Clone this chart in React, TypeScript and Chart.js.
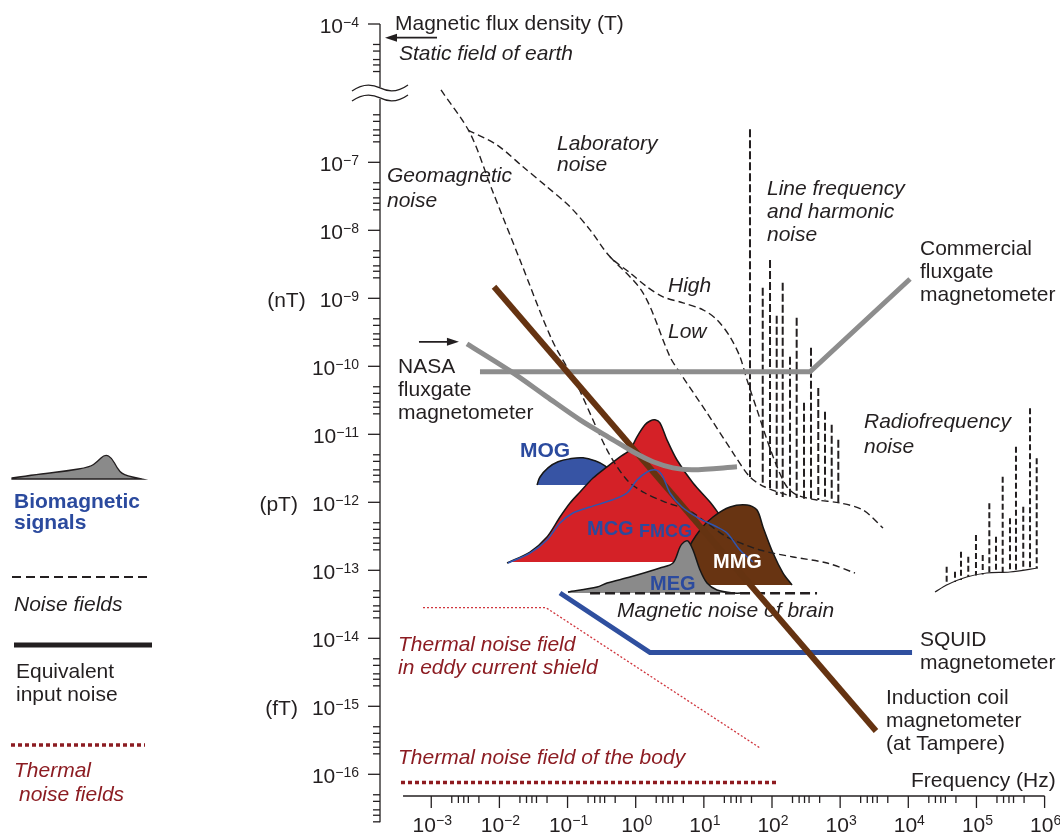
import React, { useEffect, useRef } from "react";
import { Chart, registerables } from "chart.js";

Chart.register(...registerables);

const FONT = "'Liberation Sans', Arial, Helvetica, sans-serif";
const INK = "#231f20";
const DARK_RED = "#8c1c22";
const BLUE_TXT = "#2b4a9e";

// Scale windows, in log10 units (x: log10 Hz, y: log10 T on a broken axis)
const X_MIN = -9.328;
const X_MAX = 6.226;
const Y_MIN = -16.878;
const Y_MAX = -4.613;
const BREAK_SHIFT = 0.966; // the 1e-6..1e-5 decade is cut out of the axis
const disp = (lb: number) => (lb > -5.5 ? lb - BREAK_SHIFT : lb);

// Axis layout values
const yAxisLogF = -3.752;
const xAxisLogB = -16.319;
const xAxisStartLogF = -3.414;
const yAxisEndLogB = -16.705;
const xMajorExp = [-3, -2, -1, 0, 1, 2, 3, 4, 5, 6];
const yMajorExp = [-4, -7, -8, -9, -10, -11, -12, -13, -14, -15, -16];
const xMinorMult = [2, 2.5, 3, 3.5, 5];
const yMinorMult = [2, 2.5, 3, 4, 5];
const yMinorDecades = [-5, -7, -8, -9, -10, -11, -12, -13, -14, -15, -16, -17];
const unitLabels: Record<string, string> = { "-9": "(nT)", "-12": "(pT)", "-15": "(fT)" };
const earthFieldT = 6.3e-5;

// ---- Data (log10 frequency [Hz], log10 flux density [T]) ----
const geoNoiseLogF = [-2.857, -2.432, -2.108, -1.698, -1.228, -0.861, -0.421, -0.128, 0.136, 0.43, 0.797, 1.046, 1.34, 1.824, 2.309, 2.808, 3.218];
const geoNoiseLogB = [-4.97, -6.569, -7.404, -8.437, -9.613, -10.275, -11.228, -11.672, -11.863, -11.996, -12.128, -12.304, -12.51, -12.701, -12.804, -12.893, -13.04];

const labHighLogF = [-2.46, -2.034, -1.654, -1.302, -0.964, -0.67, -0.377, -0.084, 0.166, 0.401, 0.694, 0.988, 1.193, 1.384, 1.53, 1.633, 1.78, 1.927, 2.074, 2.22, 2.367, 2.661, 2.999, 3.336, 3.629];
const labHighLogB = [-6.525, -6.746, -7.066, -7.36, -7.654, -7.993, -8.39, -8.625, -8.831, -8.978, -9.066, -9.169, -9.316, -9.566, -9.86, -10.199, -10.64, -11.081, -11.478, -11.775, -11.893, -11.966, -12.01, -12.113, -12.378];

const labLowLogF = [-0.377, 0.107, 0.503, 0.65, 1.046, 1.428, 1.677, 1.897, 2.22];
const labLowLogB = [-8.39, -8.919, -9.86, -10.096, -10.684, -11.272, -11.628, -11.775, -11.893];

const lineFreqLogF = [1.677, 1.864, 1.971, 2.069, 2.157, 2.264, 2.362, 2.47, 2.572, 2.679, 2.778, 2.876, 2.973];
const lineFreqTopLogB = [-6.515, -8.846, -8.437, -9.257, -8.771, -9.859, -9.287, -10.537, -9.728, -10.319, -10.669, -10.86, -11.081];
const lineFreqBottomLogB = [-11.628, -11.746, -11.819, -11.893, -11.922, -11.937, -11.937, -11.966, -11.966, -11.966, -11.966, -11.981, -11.996];

const rfLogF = [4.563, 4.685, 4.773, 4.88, 4.993, 5.092, 5.189, 5.287, 5.385, 5.492, 5.58, 5.687, 5.786, 5.884];
const rfTopLogB = [-12.947, -13.021, -12.726, -12.8, -12.481, -12.775, -12.015, -12.506, -11.624, -12.235, -11.182, -12.065, -10.618, -11.353];
const rfBottomLogB = [-13.216, -13.172, -13.143, -13.099, -13.076, -13.062, -13.04, -13.04, -13.032, -13.025, -13.01, -12.996, -12.981, -12.966];
const rfBaseLogF = [4.392, 4.563, 4.857, 5.15, 5.492, 5.903];
const rfBaseLogB = [-13.319, -13.216, -13.099, -13.04, -13.025, -12.966];

const commercialLogF = [-2.285, 2.558, 4.025];
const commercialLogB = [-10.08, -10.08, -8.716];

const nasaLogF = [-2.476, -1.8, -1.302, -0.817, -0.333, -0.04, 0.254, 0.547, 0.841, 1.486];
const nasaLogB = [-9.669, -10.096, -10.449, -10.787, -11.081, -11.257, -11.404, -11.493, -11.522, -11.478];

const inductionLogF = [-2.079, 3.526];
const inductionLogB = [-8.831, -15.363];

const squidLogF = [-1.111, 0.21, 4.055];
const squidLogB = [-13.334, -14.209, -14.209];

const eddyLogF = [-3.121, -1.316, 1.824];
const eddyLogB = [-13.55, -13.55, -15.613];

const bodyLogF = [-3.444, 2.074];
const bodyLogB = [-16.121, -16.121];

const brainNoiseLogF = [-0.67, 2.661];
const brainNoiseLogB = [-13.338, -13.338];

const mcgLogF = [-1.888, -1.551, -1.302, -1.111, -0.964, -0.817, -0.626, -0.421, -0.23, -0.084, 0.019, 0.136, 0.21, 0.283, 0.356, 0.459, 0.606, 0.841, 1.09, 1.266, 1.457, 1.604, 1.707];
const mcgLogB = [-12.893, -12.731, -12.51, -12.216, -12.01, -11.849, -11.643, -11.478, -11.331, -11.228, -11.037, -10.86, -10.804, -10.787, -10.831, -11.081, -11.378, -11.716, -11.996, -12.231, -12.481, -12.731, -12.878];
const mcgBaseLogB = -12.878;

const fmcgLogF = [-1.874, -1.551, -1.302, -1.111, -0.92, -0.67, -0.348, -0.128, 0.019, 0.166, 0.283, 0.386, 0.503, 0.679, 0.944, 1.164, 1.34, 1.53, 1.721];
const fmcgLogB = [-12.893, -12.746, -12.554, -12.304, -12.157, -12.069, -11.966, -11.863, -11.672, -11.554, -11.522, -11.599, -11.863, -12.069, -12.245, -12.349, -12.451, -12.701, -12.878];

const mogLogF = [-1.448, -1.404, -1.287, -1.14, -0.964, -0.773, -0.597, -0.45, -0.318, -0.23];
const mogLogB = [-11.746, -11.628, -11.493, -11.404, -11.36, -11.346, -11.39, -11.463, -11.584, -11.746];
const mogBaseLogB = -11.746;

const megLogF = [-0.994, -0.567, -0.421, -0.084, 0.356, 0.547, 0.65, 0.709, 0.767, 0.841, 0.944, 1.046, 1.193, 1.428, 1.604];
const megLogB = [-13.319, -13.246, -13.187, -13.099, -12.966, -12.893, -12.657, -12.584, -12.569, -12.701, -12.996, -13.187, -13.29, -13.334, -13.334];
const megBaseLogB = -13.334;

const mmgLogF = [0.65, 0.767, 0.944, 1.134, 1.384, 1.633, 1.78, 1.868, 2.015, 2.162, 2.294];
const mmgLogB = [-13.216, -12.701, -12.407, -12.216, -12.069, -12.04, -12.113, -12.363, -12.746, -13.04, -13.216];
const mmgBaseLogB = -13.216;

// ---- dataset builders ----
const pts = (fs: number[], bs: number[]) => fs.map((f, i) => ({ x: f, y: disp(bs[i]) }));
const barPts = (fs: number[], tops: number[], bots: number[]) =>
  fs.flatMap((f, i) => [
    { x: f, y: disp(tops[i]) },
    { x: f, y: disp(bots[i]) },
    { x: f, y: null },
  ]);

const line = (data: any[], color: string, width: number, dash: number[] = [], tension = 0) => ({
  data,
  showLine: true,
  borderColor: color,
  borderWidth: width,
  borderDash: dash,
  pointRadius: 0,
  tension,
  fill: false,
  spanGaps: false,
  borderCapStyle: "butt",
});

const area = (data: any[], fillColor: string, base: number, tension = 0.3) => ({
  data,
  showLine: true,
  borderColor: "#161616",
  borderWidth: 1.5,
  backgroundColor: fillColor,
  fill: { value: disp(base) },
  pointRadius: 0,
  tension,
});

// ---- decoration plugin: axes, texts, legend ----
function drawPow(ctx: CanvasRenderingContext2D, e: number, mode: string, ax: number, ay: number) {
  const base = "10";
  const sup = e < 0 ? "\u2212" + Math.abs(e) : String(e);
  ctx.font = `21px ${FONT}`;
  const w1 = ctx.measureText(base).width;
  ctx.font = `14px ${FONT}`;
  const w2 = ctx.measureText(sup).width;
  let x0: number, yb: number, ys: number;
  if (mode === "y") {
    x0 = ax - w1 - w2;
    yb = ay + 9;
    ys = ay + 3;
  } else {
    x0 = ax - (w1 + w2) / 2 + 1;
    yb = ay;
    ys = ay - 7;
  }
  ctx.textAlign = "left";
  ctx.textBaseline = "alphabetic";
  ctx.fillStyle = INK;
  ctx.font = `21px ${FONT}`;
  ctx.fillText(base, x0, yb);
  ctx.font = `14px ${FONT}`;
  ctx.fillText(sup, x0 + w1, ys);
  return x0;
}

type T = [string, number, number, string, string];
const bgTexts: T[] = [
  ["Magnetic flux density (T)", 395, 30, "", INK],
  ["Static field of earth", 399, 60, "italic", INK],
  ["Geomagnetic", 387, 182, "italic", INK],
  ["noise", 387, 207, "italic", INK],
  ["Laboratory", 557, 150, "italic", INK],
  ["noise", 557, 171, "italic", INK],
  ["Line frequency", 767, 195, "italic", INK],
  ["and harmonic", 767, 218, "italic", INK],
  ["noise", 767, 241, "italic", INK],
  ["High", 668, 292, "italic", INK],
  ["Low", 668, 338, "italic", INK],
  ["Commercial", 920, 255, "", INK],
  ["fluxgate", 920, 278, "", INK],
  ["magnetometer", 920, 301, "", INK],
  ["NASA", 398, 373, "", INK],
  ["fluxgate", 398, 396, "", INK],
  ["magnetometer", 398, 419, "", INK],
  ["Radiofrequency", 864, 428, "italic", INK],
  ["noise", 864, 453, "italic", INK],
  ["Magnetic noise of brain", 617, 617, "italic", INK],
  ["Thermal noise field", 398, 651, "italic", DARK_RED],
  ["in eddy current shield", 398, 674, "italic", DARK_RED],
  ["SQUID", 920, 646, "", INK],
  ["magnetometer", 920, 669, "", INK],
  ["Induction coil", 886, 704, "", INK],
  ["magnetometer", 886, 727, "", INK],
  ["(at Tampere)", 886, 750, "", INK],
  ["Thermal noise field of the body", 398, 764, "italic", DARK_RED],
  ["Frequency (Hz)", 911, 787, "", INK],
  // legend
  ["Biomagnetic", 14, 508, "bold", BLUE_TXT],
  ["signals", 14, 529, "bold", BLUE_TXT],
  ["Noise fields", 14, 611, "italic", INK],
  ["Equivalent", 16, 678, "", INK],
  ["input noise", 16, 701, "", INK],
  ["Thermal", 14, 777, "italic", DARK_RED],
  ["noise fields", 19, 801, "italic", DARK_RED],
];
const shapeTexts: [string, number, number, number, string][] = [
  ["MOG", 520, 457, 21, BLUE_TXT],
  ["MCG", 587, 535, 20, BLUE_TXT],
  ["FMCG", 639, 537, 18, BLUE_TXT],
  ["MMG", 713, 568, 20, "#ffffff"],
  ["MEG", 650, 590, 20, BLUE_TXT],
];

function seg(ctx: CanvasRenderingContext2D, x1: number, y1: number, x2: number, y2: number) {
  ctx.beginPath();
  ctx.moveTo(x1, y1);
  ctx.lineTo(x2, y2);
  ctx.stroke();
}

function drawAxes(chart: any) {
  const { ctx } = chart;
  const xs = chart.scales.x;
  const ys = chart.scales.y;
  const X = (lf: number) => xs.getPixelForValue(lf);
  const Y = (lb: number) => ys.getPixelForValue(disp(lb));
  ctx.save();
  ctx.strokeStyle = INK;
  ctx.lineWidth = 1.3;
  ctx.setLineDash([]);
  // y axis with break
  const ax = X(yAxisLogF);
  const top = Y(-4);
  const gc = ys.getPixelForValue(-5.98);
  seg(ctx, ax, top, ax, gc - 6);
  seg(ctx, ax, gc + 6, ax, Y(yAxisEndLogB));
  for (const c of [gc - 5, gc + 5]) {
    ctx.beginPath();
    ctx.moveTo(ax - 28, c + 3);
    ctx.quadraticCurveTo(ax - 14, c - 7, ax, c);
    ctx.quadraticCurveTo(ax + 14, c + 7, ax + 28, c - 3);
    ctx.stroke();
  }
  for (const e of yMajorExp) {
    const p = Y(e);
    seg(ctx, ax - 12, p, ax, p);
  }
  for (const d of yMinorDecades) {
    for (const m of yMinorMult) {
      const lb = d + Math.log10(m);
      if (lb > -4 || (lb > -6 && lb < -5) || lb < yAxisEndLogB - 0.001) continue;
      const p = Y(lb);
      seg(ctx, ax - 7, p, ax, p);
    }
  }
  // x axis
  const ay = Y(xAxisLogB);
  seg(ctx, X(xAxisStartLogF), ay, X(6), ay);
  for (const e of xMajorExp) {
    const p = X(e);
    seg(ctx, p, ay, p, ay + 12);
  }
  for (let d = -3; d < 6; d++) {
    for (const m of xMinorMult) {
      const p = X(d + Math.log10(m));
      seg(ctx, p, ay, p, ay + 7);
    }
  }
  // tick labels
  for (const e of yMajorExp) {
    const x0 = drawPow(ctx, e, "y", 359, Y(e));
    const u = unitLabels[String(e)];
    if (u) {
      ctx.font = `21px ${FONT}`;
      ctx.textAlign = "right";
      ctx.fillStyle = INK;
      ctx.fillText(u, x0 - 14, Y(e) + 9);
    }
  }
  for (const e of xMajorExp) drawPow(ctx, e, "x", X(e), 832);
  ctx.restore();
}

function drawLegendGlyphs(ctx: CanvasRenderingContext2D) {
  ctx.save();
  // biomagnetic signal glyph
  const g = [[12, 478], [40, 474], [67, 471], [90, 467], [97, 462], [105, 454], [112, 458], [117, 468], [123, 475], [142, 479]];
  ctx.beginPath();
  ctx.moveTo(g[0][0], g[0][1]);
  for (let i = 1; i < g.length - 1; i++) {
    const mx = (g[i][0] + g[i + 1][0]) / 2;
    const my = (g[i][1] + g[i + 1][1]) / 2;
    ctx.quadraticCurveTo(g[i][0], g[i][1], mx, my);
  }
  ctx.lineTo(g[g.length - 1][0], g[g.length - 1][1]);
  ctx.lineTo(12, 479);
  ctx.closePath();
  ctx.fillStyle = "#8a8a8a";
  ctx.fill();
  ctx.strokeStyle = INK;
  ctx.lineWidth = 1.3;
  ctx.stroke();
  // noise fields
  ctx.setLineDash([9, 5]);
  ctx.lineWidth = 2;
  seg(ctx, 12, 577, 150, 577);
  // equivalent input noise
  ctx.setLineDash([]);
  ctx.lineWidth = 5;
  seg(ctx, 14, 645, 152, 645);
  // thermal noise fields
  ctx.setLineDash([4, 3]);
  ctx.lineWidth = 3.5;
  ctx.strokeStyle = DARK_RED;
  seg(ctx, 11, 745, 145, 745);
  ctx.restore();
}

function drawArrow(ctx: CanvasRenderingContext2D, x1: number, y: number, x2: number) {
  const dir = Math.sign(x2 - x1);
  ctx.save();
  ctx.strokeStyle = INK;
  ctx.fillStyle = INK;
  ctx.lineWidth = 1.8;
  seg(ctx, x1, y, x2 - dir * 8, y);
  ctx.beginPath();
  ctx.moveTo(x2, y);
  ctx.lineTo(x2 - dir * 12, y - 4);
  ctx.lineTo(x2 - dir * 12, y + 4);
  ctx.closePath();
  ctx.fill();
  ctx.restore();
}

const decor = {
  id: "decor",
  beforeDatasetsDraw(chart: any) {
    const { ctx } = chart;
    drawAxes(chart);
    ctx.save();
    ctx.textAlign = "left";
    ctx.textBaseline = "alphabetic";
    for (const [s, x, y, st, col] of bgTexts) {
      ctx.font = `${st} 21px ${FONT}`.trim();
      ctx.fillStyle = col;
      ctx.fillText(s, x, y);
    }
    ctx.restore();
    drawLegendGlyphs(ctx);
  },
  afterDatasetsDraw(chart: any) {
    const { ctx } = chart;
    const xs = chart.scales.x;
    const ys = chart.scales.y;
    ctx.save();
    ctx.textAlign = "left";
    ctx.textBaseline = "alphabetic";
    for (const [s, x, y, size, col] of shapeTexts) {
      ctx.font = `bold ${size}px ${FONT}`;
      ctx.fillStyle = col;
      ctx.fillText(s, x, y);
    }
    ctx.restore();
    // static field of earth arrow (points at the B axis)
    const ax = xs.getPixelForValue(yAxisLogF);
    drawArrow(ctx, ax + 57, ys.getPixelForValue(disp(Math.log10(earthFieldT))), ax + 5);
    // NASA arrow
    const nx = xs.getPixelForValue(nasaLogF[0]);
    const ny = ys.getPixelForValue(disp(nasaLogB[0]));
    drawArrow(ctx, nx - 48, ny - 2, nx - 8);
  },
};

export default function App() {
  const ref = useRef<HTMLCanvasElement>(null);
  useEffect(() => {
    const gray = "#8d8d8d";
    const datasets: any[] = [
      line(pts(nasaLogF, nasaLogB), gray, 5, [], 0.3),
      line(pts(fmcgLogF, fmcgLogB), "#2f55b0", 1.5, [], 0.3),
      line(pts(inductionLogF, inductionLogB), "#653311", 6),
      line(pts(commercialLogF, commercialLogB), gray, 5),
      line(pts(squidLogF, squidLogB), "#2f4f9f", 5),
      line(pts(geoNoiseLogF, geoNoiseLogB), INK, 1.4, [7, 4], 0.3),
      line(pts(labHighLogF, labHighLogB), INK, 1.4, [7, 4], 0.3),
      line(pts(labLowLogF, labLowLogB), INK, 1.4, [7, 4], 0.3),
      line(pts(brainNoiseLogF, brainNoiseLogB), INK, 2.4, [10, 5]),
      area(pts(megLogF, megLogB), "#8a8a8a", megBaseLogB),
      area(pts(mmgLogF, mmgLogB), "#683412", mmgBaseLogB),
      area(pts(mcgLogF, mcgLogB), "#d42127", mcgBaseLogB),
      area(pts(mogLogF, mogLogB), "#3754a4", mogBaseLogB, 0.4),
      line(barPts(lineFreqLogF, lineFreqTopLogB, lineFreqBottomLogB), INK, 2, [8, 3]),
      line(barPts(rfLogF, rfTopLogB, rfBottomLogB), INK, 2, [6, 3]),
      line(pts(rfBaseLogF, rfBaseLogB), INK, 1.2, [], 0.3),
      line(pts(eddyLogF, eddyLogB), "#d0363e", 1.3, [2, 2]),
      line(pts(bodyLogF, bodyLogB), "#8e1b20", 3.5, [4, 3]),
    ];
    const chart = new Chart(ref.current as HTMLCanvasElement, {
      type: "scatter",
      data: { datasets },
      options: {
        animation: false,
        responsive: false,
        devicePixelRatio: 1,
        events: [],
        layout: { padding: 0 },
        plugins: {
          legend: { display: false },
          tooltip: { enabled: false },
          title: { display: false },
        },
        scales: {
          x: { type: "linear", display: false, min: X_MIN, max: X_MAX },
          y: { type: "linear", display: false, min: Y_MIN, max: Y_MAX },
        },
      },
      plugins: [decor],
    } as any);
    return () => chart.destroy();
  }, []);
  return (
    <div style={{ position: "fixed", left: 0, top: 0, width: 1060, height: 834, background: "#ffffff", overflow: "hidden" }}>
      <canvas ref={ref} width={1060} height={834} style={{ display: "block", width: 1060, height: 834 }} />
    </div>
  );
}
